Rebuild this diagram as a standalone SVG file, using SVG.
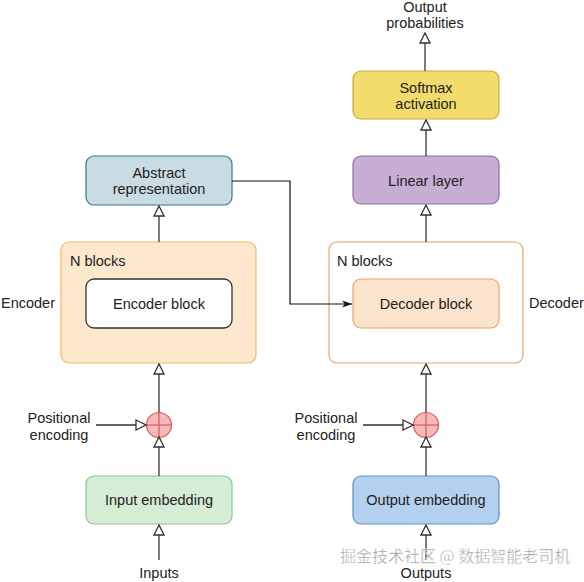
<svg xmlns="http://www.w3.org/2000/svg" width="584" height="582" viewBox="0 0 584 582">
<defs>
<style>
text{font-family:"Liberation Sans",Arial,sans-serif;font-size:14.5px;fill:#222}
.c{text-anchor:middle}
.ln{fill:none;stroke:#333;stroke-width:1.3}
</style>
<marker id="open" viewBox="0 0 12 12" refX="11" refY="6" markerWidth="12" markerHeight="12" markerUnits="userSpaceOnUse" orient="auto">
<path d="M1,1 L11,6 L1,11 Z" fill="#fff" stroke="#333" stroke-width="1.3"/>
</marker>
<marker id="solid" viewBox="0 0 12 10" refX="11" refY="5" markerWidth="12" markerHeight="9" markerUnits="userSpaceOnUse" orient="auto">
<path d="M0,1 L11,5 L0,9 L3,5 Z" fill="#111"/>
</marker>
</defs>
<rect width="584" height="582" fill="#fff"/>

<g id="output-probabilities">
<text class="c" x="425" y="12">Output</text>
<text class="c" x="425" y="28">probabilities</text>
</g>

<g id="softmax">
<rect x="353" y="71" width="146" height="48" rx="8" fill="#f3dc6b" stroke="#c9ab3a" stroke-width="1.2"/>
<text class="c" x="426" y="93">Softmax</text>
<text class="c" x="426" y="109">activation</text>
</g>

<g id="linear">
<rect x="353" y="156" width="146" height="48" rx="8" fill="#c7afd4" stroke="#8c6fa3" stroke-width="1.2"/>
<text class="c" x="426" y="186">Linear layer</text>
</g>

<g id="abstract">
<rect x="86" y="156" width="146" height="49" rx="8" fill="#c9dce4" stroke="#3d7490" stroke-width="1.2"/>
<text class="c" x="159" y="178">Abstract</text>
<text class="c" x="159" y="194">representation</text>
</g>

<g id="encoder">
<rect x="61" y="242" width="195" height="121" rx="8" fill="#fde8cd" stroke="#f0b866" stroke-width="1.2"/>
<text x="70" y="266">N blocks</text>
<text x="1" y="308">Encoder</text>
</g>

<g id="encoder-block">
<rect x="86" y="279" width="146" height="49" rx="8" fill="#fff" stroke="#333" stroke-width="1.3"/>
<text class="c" x="159" y="309">Encoder block</text>
</g>

<g id="decoder">
<rect x="329" y="242" width="194" height="121" rx="8" fill="#fff" stroke="#e4a468" stroke-width="1.2"/>
<text x="337" y="266">N blocks</text>
<text x="529" y="308">Decoder</text>
</g>

<g id="decoder-block">
<rect x="353" y="279" width="146" height="49" rx="8" fill="#fce4cc" stroke="#e3a46e" stroke-width="1.2"/>
<text class="c" x="426" y="309">Decoder block</text>
</g>

<g id="add-enc">
<circle cx="159" cy="425" r="12.5" fill="#f7b8b9" stroke="#d95a60" stroke-width="1.2"/>
<line x1="146.5" y1="425" x2="171.5" y2="425" stroke="#d95a60" stroke-width="1.2"/>
<line x1="159" y1="412.5" x2="159" y2="437.5" stroke="#d95a60" stroke-width="1.2"/>
</g>

<g id="add-dec">
<circle cx="426" cy="425" r="12.5" fill="#f7b8b9" stroke="#d95a60" stroke-width="1.2"/>
<line x1="413.5" y1="425" x2="438.5" y2="425" stroke="#d95a60" stroke-width="1.2"/>
<line x1="426" y1="412.5" x2="426" y2="437.5" stroke="#d95a60" stroke-width="1.2"/>
</g>

<g id="pos-enc-left">
<text class="c" x="59" y="423">Positional</text>
<text class="c" x="59" y="440">encoding</text>
</g>

<g id="pos-enc-right">
<text class="c" x="326" y="423">Positional</text>
<text class="c" x="326" y="440">encoding</text>
</g>

<g id="input-embedding">
<rect x="86" y="476" width="146" height="48" rx="8" fill="#d6edd5" stroke="#8bc68c" stroke-width="1.2"/>
<text class="c" x="159" y="505">Input embedding</text>
</g>

<g id="output-embedding">
<rect x="353" y="476" width="146" height="48" rx="8" fill="#b4d0ef" stroke="#5d91cc" stroke-width="1.2"/>
<text class="c" x="426" y="505">Output embedding</text>
</g>

<g id="inputs"><text class="c" x="159" y="578">Inputs</text></g>
<g id="outputs"><text class="c" x="426" y="578">Outputs</text></g>

<g id="connectors">
<line class="ln" x1="425" y1="71" x2="425" y2="33" marker-end="url(#open)"/>
<line class="ln" x1="426" y1="156" x2="426" y2="120" marker-end="url(#open)"/>
<line class="ln" x1="426" y1="242" x2="426" y2="205" marker-end="url(#open)"/>
<line class="ln" x1="159" y1="242" x2="159" y2="206" marker-end="url(#open)"/>
<polyline points="232,181 290,181 290,304 352,304" fill="none" stroke="#111" stroke-width="1.2" marker-end="url(#solid)"/>
<line class="ln" x1="159" y1="412" x2="159" y2="364" marker-end="url(#open)"/>
<line class="ln" x1="426" y1="412" x2="426" y2="364" marker-end="url(#open)"/>
<line class="ln" x1="159" y1="476" x2="159" y2="437" marker-end="url(#open)"/>
<line class="ln" x1="426" y1="476" x2="426" y2="437" marker-end="url(#open)"/>
<line class="ln" x1="96" y1="425" x2="146" y2="425" marker-end="url(#open)"/>
<line class="ln" x1="363" y1="425" x2="413" y2="425" marker-end="url(#open)"/>
<line class="ln" x1="159" y1="560" x2="159" y2="525" marker-end="url(#open)"/>
<line class="ln" x1="426" y1="560" x2="426" y2="525" marker-end="url(#open)"/>
</g>

<g id="watermark">
<text x="340" y="562" style="font-family:'Noto Sans CJK SC','Liberation Sans',sans-serif;font-size:16px;fill:#999;stroke:#fff;stroke-width:0.4">掘金技术社区 @ 数据智能老司机</text>
</g>
</svg>
